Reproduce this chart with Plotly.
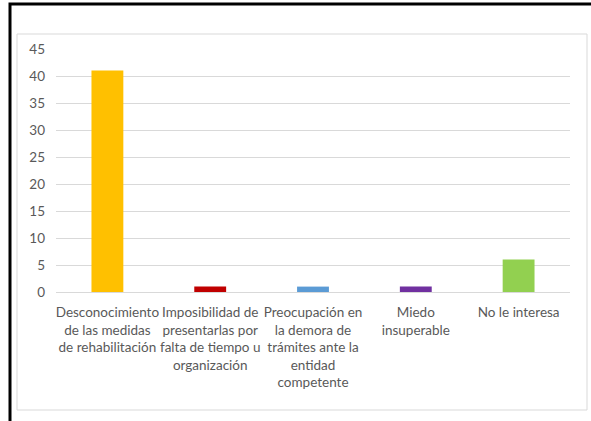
import plotly.graph_objects as go

categories = [
    "Desconocimiento<br>de las medidas<br>de rehabilitación",
    "Imposibilidad de<br>presentarlas por<br>falta de tiempo u<br>organización",
    "Preocupación en<br>la demora de<br>trámites ante la<br>entidad<br>competente",
    "Miedo<br>insuperable",
    "No le interesa",
]
values = [41, 1, 1, 1, 6]
colors = ["#FFC000", "#C00000", "#5B9BD5", "#7030A0", "#92D050"]
y_ticks = [0, 5, 10, 15, 20, 25, 30, 35, 40, 45]

W, H = 591, 421
L, R, T, B = 56, 21, 49, 129
pw, ph = W - L - R, H - T - B

def px(x):
    return (x - L) / pw

def py(y):
    return (H - B - y) / ph

font_family = "Lato, sans-serif"

fig = go.Figure(go.Bar(
    x=categories, y=values, marker=dict(color=colors, line=dict(width=0)),
    hoverinfo="skip",
))

fig.update_layout(
    width=W, height=H,
    margin=dict(l=L, r=R, t=T, b=B, autoexpand=False),
    paper_bgcolor="white", plot_bgcolor="white",
    bargap=0.69,
    showlegend=False,
    font=dict(family=font_family, size=14, color="#595959"),
    xaxis=dict(showgrid=False, showline=True, linecolor="#D9D9D9", linewidth=1,
               ticks="", tickangle=0, automargin=False, ticklabelstandoff=8,
               tickfont=dict(size=13.5, color="#595959")),
    yaxis=dict(range=[0, 45], tickvals=y_ticks, showgrid=True, gridcolor="#D9D9D9",
               gridwidth=1, zeroline=False, showline=False, ticks="", automargin=False,
               tickfont=dict(size=13.5, color="#595959"), ticklabelstandoff=10),
    shapes=[
        dict(type="rect", xref="paper", yref="paper",
             x0=px(17), x1=px(587), y0=py(410), y1=py(34),
             line=dict(color="#D9D9D9", width=1), layer="below"),
        dict(type="rect", xref="paper", yref="paper",
             x0=px(10), x1=px(600), y0=py(430), y1=py(4),
             line=dict(color="black", width=3), layer="below"),
    ],
)

fig.write_html("out.html", config={"displayModeBar": False},
               post_script="document.body.style.margin='0';")
